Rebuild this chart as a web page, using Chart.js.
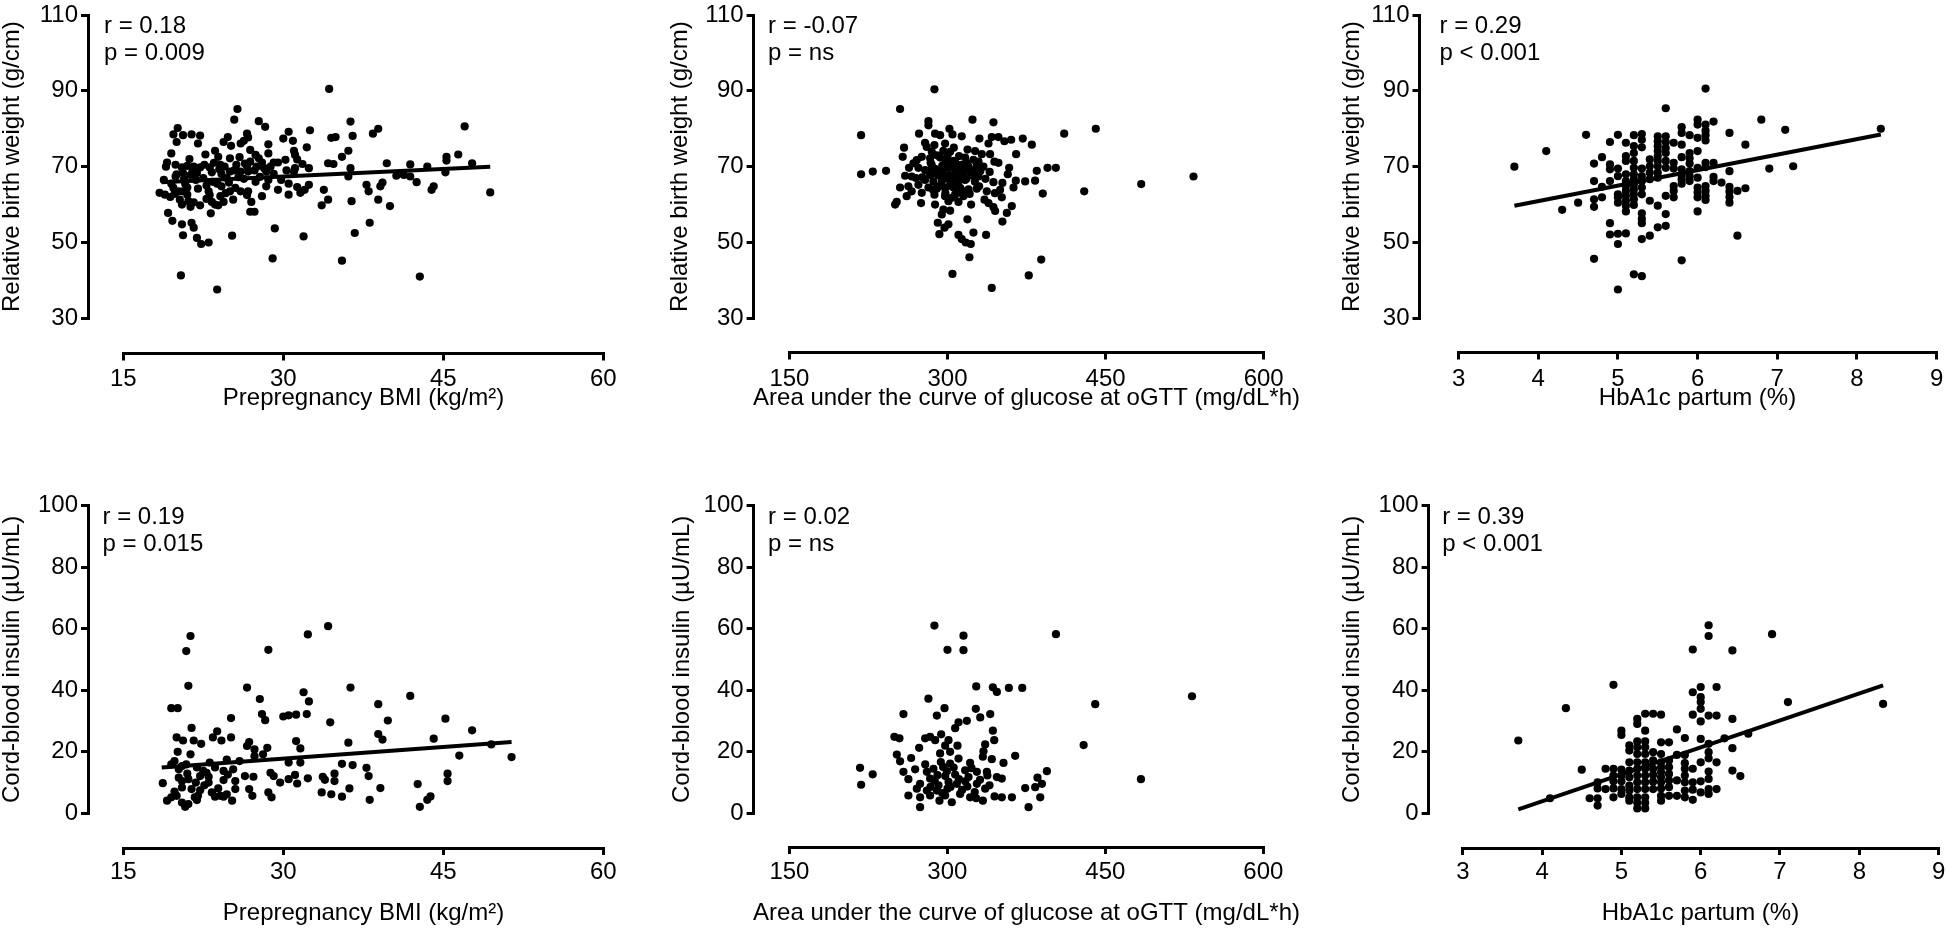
<!DOCTYPE html>
<html>
<head>
<meta charset="utf-8">
<script src="https://cdn.jsdelivr.net/npm/chart.js@4.4.1/dist/chart.umd.min.js"></script>
<style>
html,body{margin:0;padding:0;background:#fff;overflow:hidden;width:1946px;height:941px;position:relative;}
canvas{position:absolute;}
</style>
</head>
<body>
<canvas id="cA"></canvas>
<canvas id="cB"></canvas>
<canvas id="cC"></canvas>
<canvas id="cD"></canvas>
<canvas id="cE"></canvas>
<canvas id="cF"></canvas>
<script>
// ---------------- DATA ----------------
const bmiTicks = [15, 30, 45, 60];
const aucTicks = [150, 300, 450, 600];
const hbaTicks = [3, 4, 5, 6, 7, 8, 9];
const weightTicks = [30, 50, 70, 90, 110];
const insulinTicks = [0, 20, 40, 60, 80, 100];

const xTitleBmi = 'Prepregnancy BMI (kg/m²)';
const xTitleAuc = 'Area under the curve of glucose at oGTT (mg/dL*h)';
const xTitleHba = 'HbA1c partum (%)';
const yTitleWeight = 'Relative birth weight (g/cm)';
const yTitleInsulin = 'Cord-blood insulin (µU/mL)';

const notesA = ['r = 0.18', 'p = 0.009'];
const notesB = ['r = -0.07', 'p = ns'];
const notesC = ['r = 0.29', 'p < 0.001'];
const notesD = ['r = 0.19', 'p = 0.015'];
const notesE = ['r = 0.02', 'p = ns'];
const notesF = ['r = 0.39', 'p < 0.001'];

// regression line end points
const regBmiWeight = [[18.6, 65.9], [49.4, 70.0]];
const regHbaWeight = [[3.7, 59.7], [8.3, 78.5]];
const regBmiInsulin = [[18.6, 14.8], [51.4, 23.1]];
const regHbaInsulin = [[3.7, 1.2], [8.3, 41.5]];

// [BMI, relative birth weight]
const bmiWeight = [
[34.3,90.5],[25.7,85.2],[25.4,82.4],[27.7,82.0],[28.3,80.5],[36.3,81.9],[38.9,80.0],[38.4,78.7],[47.0,80.6],[32.5,79.6],
[20.1,80.2],[19.7,78.5],[20.6,78.3],[21.4,78.5],[22.2,78.2],[20.0,76.5],[22.0,76.1],[24.8,77.8],[24.4,76.5],[25.1,75.5],
[26.0,76.1],[26.6,78.7],[26.7,77.7],[26.3,76.8],[30.5,79.2],[30.0,77.4],[30.9,76.8],[28.6,75.9],[34.5,77.6],[34.9,77.8],
[36.5,78.1],[32.2,75.1],[31.0,74.2],[31.1,73.1],[31.3,71.9],[36.1,74.2],[35.5,72.6],[34.2,70.9],[34.7,70.7],[19.5,73.5],
[22.7,73.2],[23.6,74.2],[23.9,72.6],[25.0,72.2],[24.1,70.5],[24.5,70.0],[25.6,70.5],[25.4,69.0],[26.9,74.4],[27.4,73.1],
[27.7,72.2],[26.9,71.3],[26.6,70.2],[27.5,70.0],[28.0,71.1],[28.6,73.5],[29.1,71.1],[29.5,71.1],[31.8,70.7],[32.4,69.6],
[31.1,69.6],[19.1,71.1],[19.9,70.5],[20.5,69.8],[21.0,70.2],[21.6,70.0],[22.2,69.8],[20.6,68.3],[21.3,67.8],[21.9,68.3],
[23.1,69.8],[23.3,68.5],[24.2,68.1],[25.0,68.7],[26.0,68.7],[26.7,68.7],[27.3,69.0],[28.4,68.7],[29.1,68.1],[30.3,69.0],
[31.0,68.7],[36.3,69.6],[36.1,67.4],[39.7,70.9],[41.9,70.6],[43.5,70.0],[45.3,72.6],[45.3,71.6],[46.4,73.2],[47.7,70.9],
[40.6,67.6],[41.3,67.8],[41.9,67.4],[45.2,68.5],[18.4,63.1],[18.9,62.6],[19.5,65.5],[19.9,67.4],[19.7,64.4],[20.2,63.5],
[19.4,62.0],[20.3,61.3],[20.6,63.5],[21.0,62.6],[21.1,60.9],[21.3,59.4],[20.5,60.0],[21.6,60.6],[22.2,59.8],[23.0,63.5],
[23.1,62.5],[23.3,60.7],[23.6,60.0],[24.1,62.2],[24.2,64.8],[23.9,59.8],[24.4,60.7],[25.0,63.5],[25.5,64.4],[26.0,63.5],
[25.3,61.3],[26.6,62.5],[26.7,63.5],[27.0,60.7],[26.9,58.1],[27.3,58.1],[28.0,62.2],[28.4,64.8],[28.6,66.5],[29.5,63.9],
[30.5,62.6],[30.5,65.5],[31.3,64.6],[31.6,63.1],[32.0,63.9],[32.4,65.2],[33.8,63.9],[33.6,59.8],[34.2,61.3],[36.4,60.9],
[37.8,65.2],[38.0,63.5],[38.9,61.3],[39.1,64.8],[39.3,65.8],[40.0,59.6],[42.5,65.9],[43.9,63.9],[44.1,64.8],[49.4,63.2],
[19.2,57.8],[19.6,55.7],[20.5,54.8],[21.4,55.2],[21.6,53.9],[20.6,51.9],[21.9,51.2],[22.3,49.6],[23.0,50.0],[23.2,57.7],
[25.2,51.8],[29.2,53.7],[31.9,51.6],[36.7,52.5],[38.1,55.2],[29.0,45.8],[35.5,45.2],[20.4,41.3],[23.8,37.6],[42.8,41.0],
[19.0,70.0],[21.8,66.5],[22.5,67.0],[24.7,67.0],[27.8,67.3],[29.8,66.5],[20.8,65.5],[22.8,65.0],[23.5,71.0],[26.3,66.8],
[28.8,70.0],[30.2,71.8],[21.2,72.0],[18.8,66.5],
[20.0,68.0],[20.7,66.8],[21.5,69.0],[22.0,64.2],[22.6,70.5],[23.4,66.0],[24.0,69.3],[24.9,65.8],[25.8,67.2],[26.4,70.8],
[21.0,64.5],[19.8,62.8],[22.8,61.5],[24.6,63.0],[23.8,65.5],[27.4,66.0],[25.9,72.5],[28.2,69.6]
];

// [AUC glucose, relative birth weight]
const aucWeight = [
[287.6,90.4],[255.0,85.2],[218.0,78.3],[281.9,82.0],[281.9,80.9],[323.7,82.4],[343.6,81.7],[410.7,78.7],[440.7,80.0],[273.0,78.7],
[288.2,78.7],[293.0,78.3],[301.8,80.0],[304.7,78.5],[313.5,78.0],[330.3,77.4],[342.0,77.8],[348.3,77.8],[354.0,76.7],[360.4,77.1],
[371.4,77.4],[380.0,75.8],[278.7,76.3],[280.3,75.2],[287.6,75.7],[297.7,76.1],[338.9,76.1],[258.8,75.0],[257.5,72.6],[285.1,73.9],
[302.5,73.9],[326.2,74.1],[332.5,73.3],[340.4,73.3],[365.1,73.3],[270.8,71.7],[275.6,72.6],[283.5,72.2],[293.0,72.4],[297.7,70.9],
[307.2,71.3],[316.7,72.4],[324.6,71.8],[329.4,71.3],[344.5,71.3],[348.3,71.0],[263.5,69.7],[267.7,70.9],[272.4,69.7],[278.7,69.1],
[288.2,69.4],[294.6,69.1],[300.9,69.7],[307.2,69.4],[311.9,69.4],[319.9,70.0],[327.8,70.3],[334.1,70.0],[358.5,69.7],[218.0,68.0],
[229.1,68.7],[241.7,68.9],[259.8,67.6],[266.1,67.4],[384.7,68.9],[394.9,69.7],[402.8,69.7],[357.2,68.0],[283.5,67.8],[291.4,67.7],
[297.7,67.8],[302.5,67.8],[308.8,67.8],[315.1,67.4],[323.0,67.7],[329.4,67.4],[278.7,66.5],[286.6,66.1],[294.6,66.1],[303.4,66.3],
[310.4,66.1],[316.7,66.5],[373.7,66.1],[383.1,66.3],[364.8,66.3],[343.6,65.9],[352.1,65.7],[483.8,65.4],[429.7,63.5],[533.4,67.4],
[255.0,64.5],[262.9,64.8],[272.4,65.2],[281.9,64.5],[289.8,64.2],[297.7,64.4],[305.6,64.5],[312.0,64.4],[327.8,64.2],[337.3,63.5],
[349.9,63.9],[362.6,64.5],[390.4,62.9],[261.3,62.2],[275.6,63.1],[287.6,62.6],[297.7,62.2],[307.2,62.6],[315.1,62.2],[335.1,61.3],
[351.5,61.9],[250.3,60.0],[251.8,60.7],[274.9,60.4],[288.2,60.0],[300.9,60.9],[310.4,60.7],[322.4,60.0],[338.9,60.4],[343.6,59.3],
[361.0,59.6],[296.1,58.7],[302.5,58.4],[294.6,57.4],[345.2,58.3],[356.3,57.8],[318.9,56.1],[352.1,55.5],[290.8,55.2],[300.9,54.8],
[297.1,53.9],[292.3,52.2],[324.6,52.6],[336.6,52.0],[310.4,52.0],[313.5,50.9],[317.3,50.0],[322.1,49.6],[320.8,46.1],[388.9,45.5],
[304.7,41.7],[377.1,41.3],[342.0,38.0],[305.0,70.0],[310.0,68.5],[318.0,66.8],[302.0,65.0],[312.0,63.3],[296.0,68.8],[306.0,71.5],
[316.0,69.0],[320.0,64.0],[300.0,72.8],[285.0,70.5],[325.0,69.0],
[284,71.0],[290,73.0],[295,70.2],[299,66.9],[304,67.0],[308,65.2],[313,70.5],[318,71.0],[322,68.5],[326,66.0],
[331,68.8],[336,66.8],[292,64.8],[298,63.0],[304,61.8],[309,63.8],[316,63.5],[321,62.8],[282,68.8],[276,67.2],
[289,68.2],[300,71.5],[311,72.8],[319,74.5],[306,75.0],[296,74.2],[286,64.0],[270,67.0],[266,63.5],[330,64.8],
[340,68.6],[345,63.0]
];

// [HbA1c, relative birth weight]
const hbaWeight = [
[3.7,70.0],[4.1,74.1],[4.3,58.6],[4.5,60.5],[4.6,78.4],
[4.7,70.8],[4.7,66.2],[4.7,61.4],[4.7,59.4],[4.7,45.7],
[4.8,72.5],[4.8,64.7],[4.8,61.9],
[4.9,76.5],[4.9,70.6],[4.9,69.3],[4.9,66.2],[4.9,55.1],[4.9,52.1],
[5.0,78.4],[5.0,69.5],[5.0,67.5],[5.0,62.7],[5.0,61.9],[5.0,60.5],[5.0,49.6],[5.0,37.6],[5.0,52.3],
[5.1,76.3],[5.1,72.8],[5.1,71.5],[5.1,68.0],[5.1,66.2],[5.1,64.9],[5.1,63.6],[5.1,62.3],[5.1,61.0],[5.1,59.7],[5.1,58.2],[5.1,52.4],
[5.2,78.3],[5.2,75.4],[5.2,73.6],[5.2,71.5],[5.2,69.7],[5.2,68.0],[5.2,66.7],[5.2,65.3],[5.2,64.0],[5.2,62.7],[5.2,61.4],[5.2,59.9],[5.2,41.6],
[5.3,78.6],[5.3,77.1],[5.3,75.1],[5.3,69.5],[5.3,67.5],[5.3,66.2],[5.3,64.5],[5.3,62.7],[5.3,57.7],[5.3,56.2],[5.3,55.1],[5.3,50.9],[5.3,41.1],
[5.4,71.9],[5.4,70.1],[5.4,68.4],[5.4,66.7],[5.4,61.0],[5.4,51.8],
[5.5,78.0],[5.5,76.7],[5.5,75.4],[5.5,74.1],[5.5,72.8],[5.5,71.5],[5.5,70.1],[5.5,68.4],[5.5,67.1],[5.5,59.7],[5.5,54.0],
[5.6,85.4],[5.6,78.0],[5.6,76.5],[5.6,74.9],[5.6,73.6],[5.6,71.5],[5.6,69.7],[5.6,62.3],[5.6,57.5],[5.6,54.4],
[5.7,76.3],[5.7,71.0],[5.7,69.5],[5.7,64.9],[5.7,63.6],[5.7,61.9],
[5.8,80.4],[5.8,78.9],[5.8,75.8],[5.8,72.5],[5.8,69.3],[5.8,67.8],[5.8,66.7],[5.8,65.5],[5.8,45.3],
[5.9,78.3],[5.9,73.6],[5.9,72.2],[5.9,70.8],[5.9,68.8],[5.9,67.5],[5.9,66.2],
[6.0,82.4],[6.0,81.1],[6.0,77.6],[6.0,74.1],[6.0,69.7],[6.0,67.1],[6.0,64.5],[6.0,63.2],[6.0,61.9],[6.0,58.2],
[6.1,90.6],[6.1,81.1],[6.1,79.5],[6.1,78.3],[6.1,76.9],[6.1,71.0],[6.1,69.9],[6.1,64.9],[6.1,63.6],[6.1,62.3],[6.1,61.2],
[6.2,81.9],[6.2,71.0],[6.2,67.3],[6.2,66.2],[6.3,65.8],
[6.4,78.9],[6.4,68.8],[6.4,64.7],[6.4,63.4],[6.4,62.0],[6.4,60.5],
[6.5,51.8],[6.5,63.6],[6.6,75.8],[6.6,64.3],
[6.8,82.4],[6.9,69.5],[7.1,79.7],[7.2,70.1],[8.3,80.0]
];

// [BMI, cord-blood insulin]
const bmiInsulin = [
[34.2,60.8],[21.3,57.6],[32.3,58.1],[20.9,52.7],[28.6,53.1],[21.1,41.4],[26.6,40.8],[36.3,40.8],[41.9,38.1],[31.9,39.3],
[32.4,36.3],[27.8,37.1],[19.5,34.1],[20.1,34.1],[38.9,35.4],[45.2,30.7],[39.8,30.1],[34.4,29.5],[28.0,32.2],[28.3,30.2],
[30.0,31.4],[30.5,31.8],[31.2,32.0],[32.2,32.2],[25.1,30.9],[21.4,27.7],[47.7,26.9],[44.1,24.2],[38.9,25.7],[39.3,23.9],
[36.1,22.9],[20.0,24.6],[20.6,23.6],[21.6,23.6],[22.3,22.5],[23.4,24.6],[23.8,26.6],[24.2,23.6],[25.1,24.6],[26.8,23.1],
[27.3,20.7],[28.5,21.2],[31.2,23.4],[31.6,21.0],[20.1,19.9],[21.3,19.1],[23.1,16.4],[24.7,17.4],[26.6,21.8],[27.3,18.5],
[28.1,19.1],[30.5,16.4],[31.6,16.4],[35.5,16.0],[36.5,15.6],[46.5,18.7],[49.5,22.3],[51.4,18.2],[19.5,15.8],[20.2,14.2],
[20.9,15.8],[21.9,14.8],[22.5,13.7],[23.6,14.8],[24.4,13.7],[25.3,14.2],[25.9,16.9],[28.8,13.1],[29.1,12.0],[18.7,9.7],
[20.2,11.5],[21.1,11.0],[22.2,12.0],[23.0,9.9],[24.4,10.7],[25.5,10.4],[26.4,12.0],[27.2,11.8],[29.7,9.9],[30.5,11.0],
[31.1,12.4],[31.3,9.6],[32.3,11.3],[33.7,11.8],[33.9,10.8],[34.8,12.8],[34.8,10.4],[37.8,14.7],[38.0,12.0],[39.1,8.1],
[42.6,9.4],[45.4,12.8],[45.4,10.4],[20.5,8.3],[21.4,7.8],[22.2,7.4],[23.3,6.7],[24.1,5.6],[24.7,6.1],[25.5,7.8],
[26.8,7.8],[27.1,5.6],[28.6,6.7],[28.9,5.1],[33.6,6.7],[34.5,6.1],[35.5,5.3],[36.2,8.0],[38.1,4.3],[43.8,5.4],
[43.5,4.3],[42.8,2.0],[19.1,4.0],[19.5,5.1],[20.0,5.6],[20.5,3.4],[20.8,2.0],[21.1,2.9],[21.7,5.1],[22.0,5.6],
[23.6,5.3],[24.4,5.3],[25.2,4.0],[19.8,16.9],[20.5,15.3],[22.8,13.1],[20.5,10.4],[21.8,9.9],
[21.0,12.8],[22.6,9.0],[23.9,8.0],[21.9,4.2],[23.0,11.8],[24.8,12.5],[19.8,7.0]
];

// [AUC glucose, cord-blood insulin]
const aucInsulin = [
[287.7,61.0],[315.3,57.7],[300.1,53.1],[315.3,53.0],[403.1,58.2],[327.4,41.2],[343.2,40.9],[347.0,39.4],[358.4,40.7],[371.1,40.7],
[440.4,35.4],[532.3,38.0],[282.0,37.2],[297.3,34.1],[290.0,31.7],[258.3,32.2],[327.0,33.9],[331.2,31.1],[340.7,32.2],[318.5,30.0],
[310.6,29.5],[307.4,27.6],[343.2,26.8],[344.5,23.7],[249.7,24.8],[254.5,24.3],[278.9,24.3],[283.6,24.8],[288.4,23.7],[294.1,25.6],
[301.1,23.7],[297.9,21.9],[273.2,21.2],[309.6,21.9],[302.6,19.9],[335.9,22.3],[334.3,20.1],[333.7,18.3],[364.4,18.6],[429.4,22.1],
[252.0,19.0],[255.1,16.8],[265.6,17.9],[293.8,16.6],[310.6,17.7],[321.6,16.3],[342.2,17.5],[353.3,16.3],[394.5,13.6],[258.3,13.4],
[263.0,11.0],[269.4,14.2],[280.5,13.4],[290.6,12.3],[299.5,13.6],[307.4,12.5],[316.9,13.9],[320.1,11.7],[328.0,13.4],[337.5,13.4],
[347.0,11.7],[351.7,11.2],[385.6,11.5],[483.8,11.0],[217.1,14.7],[229.1,12.6],[218.1,9.2],[274.1,9.5],[283.6,11.2],[291.6,9.0],
[301.1,10.1],[309.0,9.5],[316.9,10.3],[328.0,9.5],[335.9,7.9],[373.9,8.1],[383.4,8.4],[389.8,9.5],[263.0,5.7],[274.1,5.1],
[283.6,5.7],[292.5,4.0],[297.9,5.7],[304.2,3.5],[312.1,6.2],[321.6,5.1],[327.4,4.8],[333.7,4.0],[344.8,5.4],[351.7,5.1],
[361.3,5.1],[388.2,5.1],[274.1,1.9],[377.1,1.9],[280.5,7.3],[290.0,7.3],[300.1,7.9],[286.8,14.4],[302.6,16.1],[293.1,19.4],
[271.0,7.9],
[284,8.5],[288,10.5],[295,6.5],[298,12.0],[303,8.5],[306,14.8],[311,11.0],[314,7.5],[319,8.6],[323,14.6],
[326,6.8],[331,10.8],[338,12.2],[296,15.0],[279,15.8],[340,9.0]
];

// [HbA1c, cord-blood insulin]
const hbaInsulin = [
[3.7,23.6],[4.1,4.8],[4.3,34.1],[4.5,14.1],[4.6,4.8],[4.7,4.8],[4.7,2.4],[4.7,10.0],[4.7,8.0],
[4.8,14.4],[4.8,7.8],[4.9,41.7],[4.9,14.4],[4.9,12.2],[4.9,10.3],[4.9,8.0],[4.9,5.1],[5.0,26.8],[5.0,25.4],
[5.0,14.1],[5.0,12.2],[5.0,10.3],[5.0,7.8],[5.0,6.2],
[5.1,22.0],[5.1,20.3],[5.1,16.5],[5.1,13.8],[5.1,11.6],[5.1,8.9],[5.1,7.3],[5.1,5.1],[5.1,4.0],
[5.2,30.6],[5.2,29.0],[5.2,23.3],[5.2,21.4],[5.2,19.2],[5.2,16.5],[5.2,14.4],[5.2,12.2],[5.2,10.0],[5.2,7.8],[5.2,5.1],[5.2,3.3],[5.2,1.5],
[5.3,32.3],[5.3,23.3],[5.3,21.4],[5.3,19.2],[5.3,16.5],[5.3,14.4],[5.3,12.2],[5.3,10.0],[5.3,7.8],[5.3,5.1],[5.3,3.3],[5.3,1.5],[5.3,26.8],
[5.4,32.3],[5.4,19.8],[5.4,17.1],[5.4,14.4],[5.4,12.4],[5.4,10.2],[5.4,7.8],[5.5,32.0],
[5.5,23.0],[5.5,19.2],[5.5,16.5],[5.5,14.9],[5.5,13.3],[5.5,11.6],[5.5,10.0],[5.5,8.0],[5.5,5.6],[5.5,4.0],[5.6,23.0],
[5.6,17.1],[5.6,14.9],[5.6,12.7],[5.6,10.6],[5.6,8.4],[5.6,5.6],
[5.7,27.2],[5.7,10.6],[5.7,5.6],[5.7,18.9],
[5.8,24.4],[5.8,18.9],[5.8,16.2],[5.8,14.4],[5.8,12.2],[5.8,10.0],[5.8,7.3],[5.8,5.1],
[5.9,39.3],[5.9,32.0],[5.9,14.4],[5.9,10.0],[5.9,7.6],[5.9,4.3],[5.9,53.2],
[6.0,41.0],[6.0,37.7],[6.0,36.1],[6.0,33.9],[6.0,29.8],[6.0,24.1],[6.0,16.5],[6.0,10.3],[6.0,6.7],
[6.1,61.1],[6.1,57.6],[6.1,31.7],[6.1,22.5],[6.1,19.8],[6.1,17.8],[6.1,13.5],[6.1,11.1],[6.1,7.8],[6.1,6.2],
[6.2,41.0],[6.2,31.7],[6.2,16.5],[6.2,7.8],[6.3,24.3],
[6.4,52.9],[6.4,30.6],[6.4,21.1],[6.4,13.8],
[6.5,12.0],[6.6,25.8],[6.9,58.2],[7.1,36.1],[8.3,35.5]
];

// ---------------- LAYOUT (pixel geometry of each panel) ----------------
const FONT = '"Liberation Sans", Arial, Helvetica, sans-serif';
const FS = 24;
Chart.defaults.font.family = FONT;
Chart.defaults.font.size = FS;
Chart.defaults.color = '#000';

const TOP = {ct: 0, ch: 470, chartT: 12, chartB: 318.3, labelMid: 379, titleMid: 398};
const BOT = {ct: 470, ch: 471, chartT: 505.7, chartB: 813, labelMid: 872, titleMid: 913};

const panels = [
  {id: 'cA', pts: bmiWeight, reg: regBmiWeight, xTicks: bmiTicks, yTicks: weightTicks, xTitle: xTitleBmi, yTitle: yTitleWeight, notes: notesA,
   geo: Object.assign({}, TOP, {cl: 0, yAxisX: 88, chartL: 123.3, chartR: 603.3, xAxisY: 353.5, titleCX: 363.3, noteDX: 16})},
  {id: 'cB', pts: aucWeight, reg: null, xTicks: aucTicks, yTicks: weightTicks, xTitle: xTitleAuc, yTitle: yTitleWeight, notes: notesB,
   geo: Object.assign({}, TOP, {cl: 668, yAxisX: 753.6, chartL: 789.4, chartR: 1263.7, xAxisY: 352.5, titleCX: 1026.5, noteDX: 14.5})},
  {id: 'cC', pts: hbaWeight, reg: regHbaWeight, xTicks: hbaTicks, yTicks: weightTicks, xTitle: xTitleHba, yTitle: yTitleWeight, notes: notesC,
   geo: Object.assign({}, TOP, {cl: 1340, yAxisX: 1419.5, chartL: 1458.6, chartR: 1936.6, xAxisY: 352.5, titleCX: 1697.6, noteDX: 20})},
  {id: 'cD', pts: bmiInsulin, reg: regBmiInsulin, xTicks: bmiTicks, yTicks: insulinTicks, xTitle: xTitleBmi, yTitle: yTitleInsulin, notes: notesD,
   geo: Object.assign({}, BOT, {cl: 0, yAxisX: 88, chartL: 123.3, chartR: 603.3, xAxisY: 848, titleCX: 363.3, noteDX: 14.5})},
  {id: 'cE', pts: aucInsulin, reg: null, xTicks: aucTicks, yTicks: insulinTicks, xTitle: xTitleAuc, yTitle: yTitleInsulin, notes: notesE,
   geo: Object.assign({}, BOT, {cl: 670, yAxisX: 753.6, chartL: 789.4, chartR: 1263.3, xAxisY: 847, titleCX: 1026.3, noteDX: 14.5})},
  {id: 'cF', pts: hbaInsulin, reg: regHbaInsulin, xTicks: hbaTicks, yTicks: insulinTicks, xTitle: xTitleHba, yTitle: yTitleInsulin, notes: notesF,
   geo: Object.assign({}, BOT, {cl: 1340, yAxisX: 1428.6, chartL: 1462.8, chartR: 1938.6, xAxisY: 848, titleCX: 1700.7, noteDX: 13.6})}
];

// r / p annotation, placed from the y scale
const notePlugin = {
  id: 'notes',
  afterDraw(chart, args, opts) {
    const ctx = chart.ctx;
    const ys = chart.scales.y;
    ctx.save();
    ctx.font = FS + 'px ' + FONT;
    ctx.fillStyle = '#000';
    ctx.textAlign = 'left';
    ctx.textBaseline = 'middle';
    opts.lines.forEach((t, i) => {
      ctx.fillText(t, ys.right + opts.dx, ys.getPixelForValue(ys.max) + opts.dy + i * opts.gap);
    });
    ctx.restore();
  }
};

function build(p) {
  const g = p.geo;
  const cw = Math.round(2 * (g.titleCX - g.cl));
  const canvas = document.getElementById(p.id);
  canvas.width = cw;
  canvas.height = g.ch;
  canvas.style.left = g.cl + 'px';
  canvas.style.top = g.ct + 'px';
  canvas.style.width = cw + 'px';
  canvas.style.height = g.ch + 'px';

  const yW = g.yAxisX - g.cl;
  const ySp = g.chartL - g.yAxisX;
  const rSp = g.cl + cw - g.chartR;
  const pt = g.chartT - g.ct;
  const xSp = g.xAxisY - g.chartB;
  const xH = (g.titleMid - FS / 2) - g.xAxisY;
  const pb = g.ct + g.ch - (g.titleMid + FS / 2);
  const xPad = g.labelMid - g.xAxisY - 7 - FS / 2;

  const datasets = [{
    data: p.pts.map(d => ({x: d[0], y: d[1]})),
    xAxisID: 'x', yAxisID: 'y',
    pointRadius: 4.1, pointHoverRadius: 4.1,
    pointBackgroundColor: '#000', pointBorderWidth: 0, backgroundColor: '#000',
    showLine: false, clip: false, order: 1
  }];
  if (p.reg) {
    datasets.push({
      data: p.reg.map(d => ({x: d[0], y: d[1]})),
      xAxisID: 'x', yAxisID: 'y',
      showLine: true, borderColor: '#000', borderWidth: 4, pointRadius: 0, fill: false, clip: false, order: 0
    });
  }
  const tickFont = {size: FS, lineHeight: 1, family: FONT};
  const axisLine = {display: true, width: 3, color: '#000'};
  const tickGrid = {display: true, drawOnChartArea: false, drawTicks: true, tickLength: 7, tickWidth: 3, lineWidth: 3, tickColor: '#000', color: '#000'};
  const spacer = (axis, position, size) => ({
    type: 'linear', axis: axis, position: position, weight: 0, display: true,
    grid: {display: false}, border: {display: false}, ticks: {display: false},
    afterFit: s => { if (axis === 'x') s.height = size; else s.width = size; }
  });

  new Chart(canvas, {
    type: 'scatter',
    data: {datasets: datasets},
    options: {
      responsive: false, animation: false, events: [],
      layout: {autoPadding: false, padding: {left: 0, right: 0, top: pt, bottom: pb}},
      plugins: {
        legend: {display: false},
        tooltip: {enabled: false},
        title: {display: true, text: p.xTitle, position: 'bottom', fullSize: true, align: 'center',
                font: {size: FS, lineHeight: 1, weight: 'normal', family: FONT}, padding: 0, color: '#000'},
        notes: {lines: p.notes, dx: g.noteDX, dy: 11.5, gap: 27}
      },
      scales: {
        x: {
          type: 'linear', position: 'bottom', weight: 1,
          min: p.xTicks[0], max: p.xTicks[p.xTicks.length - 1],
          afterBuildTicks: s => { s.ticks = p.xTicks.map(v => ({value: v})); },
          afterFit: s => { s.height = xH; },
          grid: tickGrid, border: axisLine,
          ticks: {padding: xPad, font: tickFont, color: '#000', maxRotation: 0, autoSkip: false, callback: v => String(v)}
        },
        xs: spacer('x', 'bottom', xSp),
        y: {
          type: 'linear', position: 'left', weight: 1,
          min: p.yTicks[0], max: p.yTicks[p.yTicks.length - 1],
          afterBuildTicks: s => { s.ticks = p.yTicks.map(v => ({value: v})); },
          afterFit: s => { s.width = yW; },
          grid: tickGrid, border: axisLine,
          ticks: {padding: 3, font: tickFont, color: '#000', autoSkip: false, callback: v => String(v)},
          title: {display: true, text: p.yTitle, font: {size: FS, lineHeight: 1, family: FONT}, padding: 0, color: '#000'}
        },
        ys: spacer('y', 'left', ySp),
        rs: spacer('y', 'right', rSp)
      }
    },
    plugins: [notePlugin]
  });
}

panels.forEach(build);
</script>
</body>
</html>
